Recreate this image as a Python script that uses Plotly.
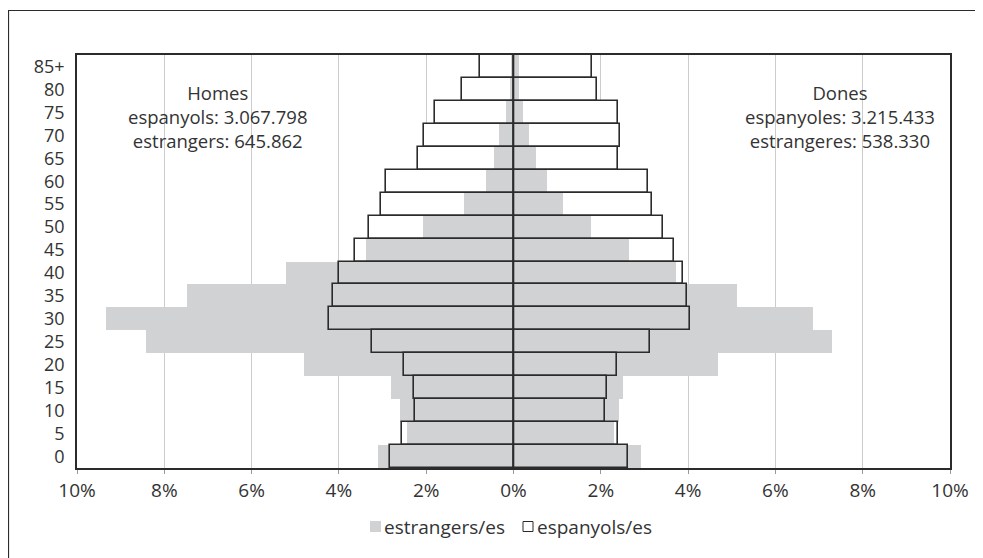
import plotly.graph_objects as go

ages = ["0", "5", "10", "15", "20", "25", "30", "35", "40", "45", "50", "55", "60", "65", "70", "75", "80", "85+"]

# percentages (men shown on the left)
homes_espanyols = [2.82, 2.56, 2.25, 2.29, 2.50, 3.25, 4.22, 4.13, 4.00, 3.63, 3.31, 3.03, 2.91, 2.19, 2.05, 1.80, 1.18, 0.76]
homes_estrangers = [3.11, 2.44, 2.60, 2.81, 4.80, 8.42, 9.34, 7.48, 5.21, 3.38, 2.08, 1.14, 0.63, 0.45, 0.34, 0.18, 0.08, 0.06]
dones_espanyoles = [2.62, 2.40, 2.09, 2.15, 2.37, 3.12, 4.05, 3.98, 3.89, 3.67, 3.42, 3.18, 3.09, 2.40, 2.44, 2.40, 1.91, 1.79]
dones_estrangeres = [2.91, 2.30, 2.41, 2.50, 4.69, 7.29, 6.87, 5.13, 3.72, 2.64, 1.77, 1.13, 0.76, 0.51, 0.35, 0.21, 0.12, 0.12]

tick_vals = [-10, -8, -6, -4, -2, 0, 2, 4, 6, 8, 10]
tick_text = ["10%", "8%", "6%", "4%", "2%", "0%", "2%", "4%", "6%", "8%", "10%"]

homes_text = ["Homes", "espanyols: 3.067.798", "estrangers: 645.862"]
dones_text = ["Dones", "espanyoles: 3.215.433", "estrangeres: 538.330"]

legend_estr = "estrangers/es"
legend_esp = "espanyols/es"

GREY = "#d1d2d4"
DARK = "#2b2b2b"
TXT = "#333333"
FONT = "Open Sans"

neg = lambda v: [-x for x in v]

fig = go.Figure()
# white fill of Spanish bars (bottom)
for vals in (neg(homes_espanyols), dones_espanyoles):
    fig.add_trace(go.Bar(y=ages, x=vals, orientation="h", marker=dict(color="white", line=dict(width=0)),
                         showlegend=False, hoverinfo="skip"))
# grey foreign bars
fig.add_trace(go.Bar(y=ages, x=neg(homes_estrangers), orientation="h", name=legend_estr,
                     showlegend=False, marker=dict(color=GREY, line=dict(width=0))))
fig.add_trace(go.Bar(y=ages, x=dones_estrangeres, orientation="h", name=legend_estr,
                     showlegend=False, marker=dict(color=GREY, line=dict(width=0))))
# outlines of Spanish bars (top)
fig.add_trace(go.Bar(y=ages, x=neg(homes_espanyols), orientation="h", name=legend_esp,
                     showlegend=False, marker=dict(color="rgba(255,255,255,0)", line=dict(color=DARK, width=1.6))))
fig.add_trace(go.Bar(y=ages, x=dones_espanyoles, orientation="h", name=legend_esp,
                     showlegend=False, marker=dict(color="rgba(255,255,255,0)", line=dict(color=DARK, width=1.6))))

OFF = 8  # page body margin
W, H = 983 - OFF, 558 - OFF
ml, mt = 77 - OFF, 55 - OFF
mr = 983 - 950
mb = H - (468 - OFF)
pw, ph = W - ml - mr, H - mt - mb

def px_x(p):  # page pixel -> paper
    return (p - OFF - ml) / pw

def px_y(p):
    return (H - mb - (p - OFF)) / ph

shapes = [
    dict(type="line", xref="x", yref="paper", x0=0, x1=0, y0=0, y1=1, line=dict(color=DARK, width=1.6), layer="above"),
    dict(type="rect", xref="paper", yref="paper", x0=px_x(8.5), x1=px_x(995), y0=px_y(10.5), y1=px_y(575),
         line=dict(color=DARK, width=1.2), fillcolor="rgba(0,0,0,0)", layer="above"),
    # legend swatches
    dict(type="rect", xref="paper", yref="paper", x0=px_x(370), x1=px_x(381), y0=px_y(521), y1=px_y(532),
         line=dict(width=0), fillcolor=GREY),
    dict(type="rect", xref="paper", yref="paper", x0=px_x(523), x1=px_x(533), y0=px_y(521.5), y1=px_y(531.5),
         line=dict(color=DARK, width=1), fillcolor="white"),
]

annotations = []
for lines, xc in ((homes_text, 217), (dones_text, 840)):
    annotations.append(dict(text="<br>".join(lines), xref="paper", yref="paper", x=px_x(xc), y=px_y(116),
                            xanchor="center", yanchor="middle", align="center", showarrow=False,
                            font=dict(family=FONT, size=18.5, color=TXT)))
for t, x0 in ((legend_estr, 384), (legend_esp, 537)):
    annotations.append(dict(text=t, xref="paper", yref="paper", x=px_x(x0), y=px_y(527),
                            xanchor="left", yanchor="middle", showarrow=False, xshift=-2,
                            font=dict(family=FONT, size=19, color=TXT)))

fig.update_layout(
    width=W, height=H,
    margin=dict(l=ml, r=mr, t=mt, b=mb, autoexpand=False),
    barmode="overlay", bargap=0,
    plot_bgcolor="white", paper_bgcolor="white",
    font=dict(family=FONT, size=19, color=TXT),
    xaxis=dict(range=[-10, 10], tickvals=tick_vals, ticktext=tick_text, showgrid=True, gridcolor="#cccccc",
               gridwidth=1, zeroline=False, showline=True, linecolor=DARK, linewidth=1.6, mirror=True,
               ticks="outside", ticklen=4, tickcolor="#999", tickfont=dict(size=19), fixedrange=True),
    yaxis=dict(type="category", categoryorder="array", categoryarray=ages, tickmode="array", tickvals=ages,
               ticktext=ages, showgrid=False, zeroline=False,
               showline=True, linecolor=DARK, linewidth=1.6, mirror=True, ticks="", ticklabelstandoff=7,
               tickfont=dict(size=18), range=[-0.5, 17.5]),
    shapes=shapes, annotations=annotations, showlegend=False,
)

fig.write_html("out.html")
